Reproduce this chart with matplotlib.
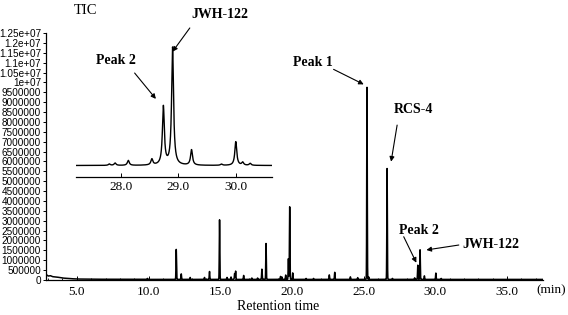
import numpy as np
import matplotlib
matplotlib.use("Agg")
import matplotlib.pyplot as plt
from matplotlib.ticker import FixedLocator, MultipleLocator

# ---------------- data ----------------
# main chromatogram: baseline (time, level) and peaks (time, height)
base_t = [2.85, 3.0, 3.15, 3.3, 3.6, 4.0, 4.5, 5.0, 6.0, 10.0, 37.5]
base_y = [0.28e6, 0.20e6, 0.22e6, 0.17e6, 0.15e6, 0.10e6, 0.07e6, 0.05e6, 0.04e6, 0.03e6, 0.03e6]

peak_t = [9.92, 11.93, 12.28, 12.9, 13.9, 14.25, 14.95, 15.47, 15.75, 16.0, 16.07,
          16.63, 17.2, 17.6, 17.9, 18.19, 19.2, 19.3, 19.56, 19.75, 19.84, 20.05,
          20.98, 21.5, 22.6, 22.98, 24.07, 24.58, 25.23, 25.35, 26.63, 27.0,
          28.55, 28.77, 28.93, 29.23, 30.03, 30.4]
peak_h = [0.05e6, 1.52e6, 0.28e6, 0.10e6, 0.10e6, 0.40e6, 3.02e6, 0.10e6, 0.12e6, 0.30e6, 0.42e6,
          0.20e6, 0.07e6, 0.07e6, 0.52e6, 1.82e6, 0.15e6, 0.12e6, 0.22e6, 1.05e6, 3.68e6, 0.33e6,
          0.05e6, 0.05e6, 0.23e6, 0.36e6, 0.13e6, 0.09e6, 9.72e6, 0.12e6, 5.62e6, 0.05e6,
          0.08e6, 0.72e6, 1.50e6, 0.18e6, 0.32e6, 0.05e6]

# inset (zoom 27.2-30.6 min): peaks (time, height)
inset_t = [27.8, 27.9, 28.13, 28.54, 28.74, 28.9, 29.23, 29.75, 30.0, 30.12, 30.25]
inset_h = [0.07e6, 0.12e6, 0.25e6, 0.30e6, 2.95e6, 5.95e6, 0.78e6, 0.06e6, 1.20e6, 0.15e6, 0.10e6]
inset_base = 0.0

x_ticks = [5.0, 10.0, 15.0, 20.0, 25.0, 30.0, 35.0]
inset_ticks = [28.0, 29.0, 30.0]
y_ticks = [i * 500000 for i in range(26)]
y_labels = ['0', '500000', '1000000', '1500000', '2000000', '2500000', '3000000',
            '3500000', '4000000', '4500000', '5000000', '5500000', '6000000',
            '6500000', '7000000', '7500000', '8000000', '8500000', '9000000',
            '9500000', '1e+07', '1.05e+07', '1.1e+07', '1.15e+07', '1.2e+07', '1.25e+07']

# ---------------- build traces ----------------
t = np.arange(2.85, 37.5, 0.003)
trace = np.interp(t, base_t, base_y)
for pt, ph in zip(peak_t, peak_h):
    trace += ph * np.exp(-0.5 * ((t - pt) / 0.018) ** 2)

ti = np.arange(27.22, 30.63, 0.002)
itrace = np.full_like(ti, inset_base)
for pt, ph in zip(inset_t, inset_h):
    itrace += ph / (1 + ((ti - pt) / 0.02) ** 2)

# ---------------- figure ----------------
W, H = 568, 315
fig = plt.figure(figsize=(W / 100, H / 100), dpi=100)
serif = ['Liberation Serif', 'DejaVu Serif']
sans = ['Liberation Sans', 'DejaVu Sans']

ax = fig.add_axes([46 / W, (H - 280) / H, (543 - 46) / W, (280 - 33) / H])
ax.plot(t, trace, color='black', lw=1.1)
ax.set_xlim(2.85, 37.5)
ax.set_ylim(0, 1.25e7)
for s in ['top', 'right']:
    ax.spines[s].set_visible(False)
for s in ['left', 'bottom']:
    ax.spines[s].set_linewidth(0.9)
ax.yaxis.set_major_locator(FixedLocator(y_ticks))
ax.set_yticklabels(y_labels, fontsize=7.2, family=sans)
ax.tick_params(axis='y', direction='out', length=2, width=0.7, pad=1.5)
ax.xaxis.set_major_locator(FixedLocator(x_ticks))
ax.xaxis.set_minor_locator(MultipleLocator(1.0))
ax.set_xticklabels([f'{v:.1f}' for v in x_ticks], fontsize=9.5, family=serif)
ax.tick_params(axis='x', which='major', direction='in', length=3, width=0.7, pad=4)
ax.tick_params(axis='x', which='minor', direction='in', length=1.5, width=0.6)
ax.patch.set_alpha(0)

fig.text(278 / W, 1 - 307 / H, 'Retention time', ha='center', va='center',
         fontsize=10, family=serif)
fig.text(551 / W, 1 - 290 / H, '(min)', ha='center', va='center',
         fontsize=9.5, family=serif)
fig.text(85 / W, 1 - 10 / H, 'TIC', ha='center', va='center',
         fontsize=10.5, family=serif)

arrow = dict(arrowstyle='-|>', lw=0.8, color='black', mutation_scale=7,
             shrinkA=0, shrinkB=0)

def label(a, text, txy, tail, head):
    a.text(txy[0], txy[1], text, ha='center', va='center', fontsize=10,
           fontweight='bold', family=serif, clip_on=False)
    a.annotate('', xy=head, xytext=tail, arrowprops=arrow, annotation_clip=False)

label(ax, 'Peak 1', (21.47, 11.0e6), (22.9, 10.66e6), (25.0, 9.90e6))
label(ax, 'RCS-4', (28.46, 8.64e6), (27.33, 7.84e6), (26.91, 5.99e6))
label(ax, 'Peak 2', (28.88, 2.49e6), (27.79, 2.19e6), (28.67, 0.875e6))
label(ax, 'JWH-122', (33.84, 1.82e6), (31.63, 1.77e6), (29.37, 1.52e6))

# inset
axi = fig.add_axes([76 / W, (H - 176.5) / H, (272 - 76) / W, (176.5 - 33) / H])
axi.plot(ti, itrace, color='black', lw=1.0)
axi.set_xlim(27.22, 30.63)
axi.set_ylim(-0.557e6, 6.705e6)
for s in ['top', 'right', 'left']:
    axi.spines[s].set_visible(False)
axi.spines['bottom'].set_linewidth(0.9)
axi.set_yticks([])
axi.xaxis.set_major_locator(FixedLocator(inset_ticks))
axi.set_xticklabels([f'{v:.1f}' for v in inset_ticks], fontsize=9.5, family=serif)
axi.tick_params(axis='x', direction='in', length=3, width=0.7, pad=3)
axi.patch.set_alpha(0)

label(axi, 'JWH-122', (29.73, 7.62e6), (29.2, 6.96e6), (28.90, 5.76e6))
label(axi, 'Peak 2', (27.91, 5.29e6), (28.24, 4.68e6), (28.61, 3.37e6))

fig.savefig('out.png', dpi=100)
